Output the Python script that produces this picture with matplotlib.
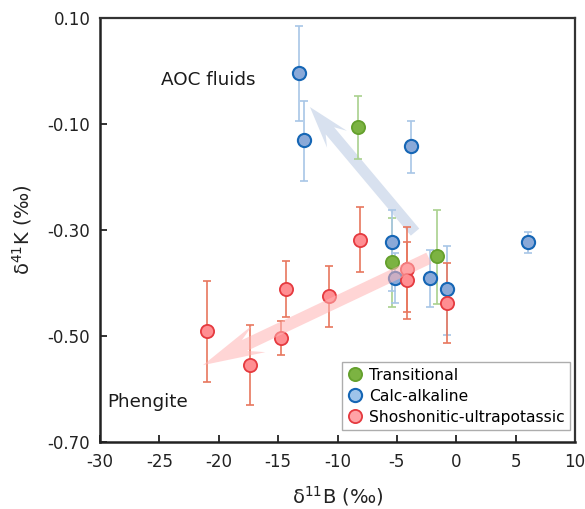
import numpy as np
import matplotlib
matplotlib.use("Agg")
import matplotlib.pyplot as plt
from matplotlib.patches import Polygon
from matplotlib.lines import Line2D

plt.rcParams['font.family'] = ['DejaVu Sans']
plt.rcParams['mathtext.fontset'] = 'dejavusans'
plt.rcParams['axes.unicode_minus'] = False

# Transitional
trans_b = [-8.3, -5.44, -1.62]
trans_k = [-0.105, -0.36, -0.349]
trans_err_lo = [0.061, 0.086, 0.09]
trans_err_hi = [0.058, 0.083, 0.086]

# Calc-alkaline
calc_b = [-13.24, -12.85, -3.84, 6.07, -5.41, -5.16, -2.24, -0.81]
calc_k = [-0.003, -0.131, -0.141, -0.323, -0.322, -0.39, -0.39, -0.412]
calc_err_lo = [0.091, 0.076, 0.052, 0.02, 0.094, 0.047, 0.055, 0.086]
calc_err_hi = [0.088, 0.075, 0.046, 0.019, 0.06, 0.047, 0.052, 0.082]

# Shoshonitic-ultrapotassic
shosh_b = [-8.11, -4.17, -4.17, -0.81, -21.02, -17.34, -14.73, -14.36, -10.72]
shosh_k = [-0.318, -0.374, -0.395, -0.438, -0.491, -0.555, -0.504, -0.412, -0.425]
shosh_err = [0.061, 0.08, 0.072, 0.076, 0.095, 0.076, 0.032, 0.053, 0.058]

x_ticks = [-30, -25, -20, -15, -10, -5, 0, 5, 10]
y_ticks = [0.10, -0.10, -0.30, -0.50, -0.70]
y_tick_labels = ["0.10", "-0.10", "-0.30", "-0.50", "-0.70"]

fig = plt.figure(figsize=(5.85, 5.09), dpi=100)
ax = fig.add_axes([100 / 585, 1 - 442 / 509, 475 / 585, 424 / 509])
ax.set_xlim(-30, 10)
ax.set_ylim(-0.70, 0.10)


def barbed_arrow(ax, start, end, shaft_w, head_w, head_len, notch, **kw):
    """Arrow polygon with a swept-back head; sizes given in pixels."""
    to_px = ax.transData
    p0 = np.array(to_px.transform(start))
    p1 = np.array(to_px.transform(end))
    d = p1 - p0
    u = d / np.hypot(*d)
    n = np.array([-u[1], u[0]])
    base = p1 - u * head_len
    inner = base + u * notch
    pts = [
        p0 + n * shaft_w / 2,
        inner + n * shaft_w / 2,
        base + n * head_w / 2,
        p1,
        base - n * head_w / 2,
        inner - n * shaft_w / 2,
        p0 - n * shaft_w / 2,
    ]
    pts = to_px.inverted().transform(np.array(pts))
    ax.add_patch(Polygon(pts, closed=True, **kw))


# trend toward AOC fluids
barbed_arrow(ax, (-3.47, -0.304), (-12.32, -0.068), 11, 26, 42, 11,
             facecolor='#d8e1ef', edgecolor='none', zorder=1)

ms = 9.5
ax.errorbar(trans_b, trans_k, yerr=[trans_err_lo, trans_err_hi], fmt='none',
            ecolor='#a9d18e', elinewidth=1.2, capsize=3, capthick=1.2, zorder=2)
ax.errorbar(calc_b, calc_k, yerr=[calc_err_lo, calc_err_hi], fmt='none',
            ecolor='#a8c6e6', elinewidth=1.2, capsize=3, capthick=1.2, zorder=2)
ax.errorbar(shosh_b, shosh_k, yerr=shosh_err, fmt='none',
            ecolor='#e8775e', elinewidth=1.2, capsize=3, capthick=1.2, zorder=2)

ax.plot(trans_b, trans_k, 'o', ms=ms, mfc='#7cb342', mec='#64a02c', mew=1.3,
        ls='none', zorder=3)
ax.plot(calc_b, calc_k, 'o', ms=ms, mfc='#8aa9d8', mec='#1566b5', mew=1.5,
        ls='none', zorder=3)
ax.plot(shosh_b, shosh_k, 'o', ms=ms, mfc='#ff8e92', mec='#e53a3f', mew=1.3,
        ls='none', zorder=3)

# trend toward phengite
barbed_arrow(ax, (-2.3, -0.353), (-21.33, -0.555), 12, 30, 62, 16,
             facecolor='#ffb3b3', edgecolor='none', alpha=0.55, zorder=4)

ax.text(-24.86, -0.017, "AOC fluids", fontsize=13.2, va='center', ha='left',
        color='#1a1a1a')
ax.text(-29.4, -0.624, "Phengite", fontsize=13.2, va='center', ha='left',
        color='#1a1a1a')

ax.set_xticks(x_ticks)
ax.set_yticks(y_ticks)
ax.set_yticklabels(y_tick_labels)
ax.tick_params(direction='in', length=5, width=1.3, labelsize=12,
               top=False, right=False, colors='#222222', labelcolor='#222222')
ax.tick_params(axis='x', pad=8)
ax.tick_params(axis='y', pad=7)
for side in ['left', 'bottom']:
    ax.spines[side].set_linewidth(1.8)
    ax.spines[side].set_color('#222222')
for side in ['top', 'right']:
    ax.spines[side].set_linewidth(1.6)
    ax.spines[side].set_color('#333333')

ax.set_xlabel(r"δ$^{11}$B (‰)", fontsize=14, labelpad=9, color='#222222')
ax.set_ylabel(r"δ$^{41}$K (‰)", fontsize=14, labelpad=10, color='#222222')

handles = [
    Line2D([], [], marker='o', ls='none', ms=ms, mfc='#7cb342', mec='#64a02c', mew=1.3),
    Line2D([], [], marker='o', ls='none', ms=ms, mfc='#9ec3ea', mec='#1566b5', mew=1.5),
    Line2D([], [], marker='o', ls='none', ms=ms, mfc='#ffa3a6', mec='#e53a3f', mew=1.3),
]
labels = ["Transitional", "Calc-alkaline", "Shoshonitic-ultrapotassic"]
leg = ax.legend(handles, labels, loc='lower right', bbox_to_anchor=(0.989, 0.028),
                fontsize=11.2, frameon=True, fancybox=False, handletextpad=0.35,
                handlelength=1.0, borderpad=0.35, labelspacing=0.38,
                borderaxespad=0.0)
leg.get_frame().set_edgecolor('#999999')
leg.get_frame().set_linewidth(1.0)

fig.savefig("out.png", dpi=100)
